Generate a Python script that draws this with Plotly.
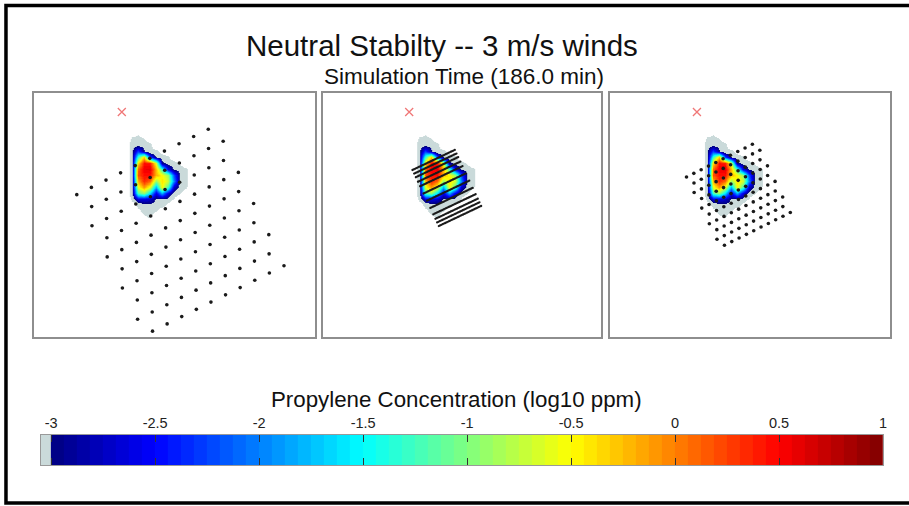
import plotly.graph_objects as go

# ---------------- data ----------------
TITLE = "Neutral Stabilty -- 3 m/s winds"
SUBTITLE = "Simulation Time (186.0 min)"
CBAR_TITLE = "Propylene Concentration (log10 ppm)"

# release point (m)
SOURCE_X = [0.0]
SOURCE_Y = [0.0]

# plume: log10 concentration (ppm) on a coarse grid, metres from release point
PLUME_X = [40, 100, 160, 220, 280, 340, 400, 460, 520, 580, 640, 700]
PLUME_Y = [-210, -270, -330, -390, -450, -510, -570, -630, -690, -750,
           -810, -870, -930, -990, -1050, -1110]
PLUME_LOG10 = [
    [-4.5, -4.2, -3.8, -4.3, -4.5, -4.5, -4.5, -4.5, -4.5, -4.5, -4.5, -4.5],
    [-4.4, -3.3, -3.2, -3.5, -4.2, -4.5, -4.5, -4.5, -4.5, -4.5, -4.5, -4.5],
    [-4.3, -3.15, -3.1, -3.15, -3.25, -4.5, -4.5, -4.5, -4.5, -4.5, -4.5, -4.5],
    [-4.3, -3.1, -2.3, -2.95, -3.4, -3.3, -4.0, -4.5, -4.5, -4.5, -4.5, -4.5],
    [-4.3, -3.1, -1.3, -0.3, -2.2, -3.0, -3.15, -3.4, -4.3, -4.5, -4.5, -4.5],
    [-4.3, -3.1, -0.4, 0.45, 0.4, -0.6, -2.9, -3.1, -3.2, -3.7, -4.5, -4.5],
    [-4.3, -3.1, 0.1, 0.55, 0.6, -0.2, -1.3, -2.6, -3.05, -3.15, -3.4, -4.4],
    [-4.3, -3.1, 0.2, 0.45, 0.45, -0.2, -0.5, -0.9, -2.2, -3.05, -3.3, -4.4],
    [-4.3, -3.1, -0.2, 0.35, 0.1, -0.9, -0.4, -0.7, -2.0, -3.05, -3.3, -4.4],
    [-4.3, -3.1, -0.6, -0.1, -0.6, -1.8, -0.5, -1.2, -2.7, -3.15, -3.45, -4.4],
    [-4.3, -3.15, -1.2, -0.9, -1.6, -2.6, -1.8, -2.6, -3.1, -3.5, -4.2, -4.5],
    [-4.4, -3.3, -2.6, -2.6, -2.7, -3.05, -3.05, -3.1, -3.7, -4.5, -4.5, -4.5],
    [-4.5, -4.2, -3.3, -3.15, -3.1, -3.1, -3.2, -3.9, -4.5, -4.5, -4.5, -4.5],
    [-4.5, -4.5, -3.9, -3.3, -3.2, -3.55, -4.3, -4.5, -4.5, -4.5, -4.5, -4.5],
    [-4.5, -4.5, -4.4, -3.8, -3.5, -4.3, -4.5, -4.5, -4.5, -4.5, -4.5, -4.5],
    [-4.5, -4.5, -4.5, -4.5, -4.5, -4.5, -4.5, -4.5, -4.5, -4.5, -4.5, -4.5],
]

# sensor layouts (metres from release point)
GRID_A_ORIGIN = [870.0, -173.0]
GRID_A_ROW_STEP = [-147.0, -72.6]
GRID_A_ROW_SPACING = [76.5, -155.7]
GRID_A_SHAPE = [10, 10]

GRID_C_ORIGIN = [557.0, -323.0]
GRID_C_ROW_STEP = [-73.5, -36.3]
GRID_C_ROW_SPACING = [38.25, -77.85]
GRID_C_SHAPE = [10, 10]

LINES_B_START = [33.0, -580.0]
LINES_B_DIRECTION = [0.904, 0.427]
LINES_B_NORMAL = [0.427, -0.904]
LINES_B_LENGTH = 470.0
LINES_B_POINTS = 34
LINES_B_OFFSETS = [0, 40, 80, 130, 180, 260, 340, 420, 490, 540, 580, 620]

CBAR_TICKS = [-3, -2.5, -2, -1.5, -1, -0.5, 0, 0.5, 1]
CBAR_TICKTEXT = ["-3", "-2.5", "-2", "-1.5", "-1", "-0.5", "0", "0.5", "1"]
CBAR_LOW, CBAR_HIGH, CBAR_NBANDS = -3.0, 1.0, 64
CBAR_UNDERFLOW_EDGE = -3.05
UNDERFLOW_VALUE = -3.3
HALO_LEVEL = -3.6

# ---------------- colours ----------------
ZMIN, ZMAX = -4.5, 1.0
GRAY = "rgb(202,218,218)"


def tnorm(z):
    return (z - ZMIN) / (ZMAX - ZMIN)


def jet(f):
    def c(v):
        return max(0.0, min(1.0, v))
    r = c(1.5 - abs(4 * f - 3))
    g = c(1.5 - abs(4 * f - 2))
    b = c(1.5 - abs(4 * f - 1))
    return "rgb(%d,%d,%d)" % (round(r * 255), round(g * 255), round(b * 255))


band = (CBAR_HIGH - CBAR_LOW) / CBAR_NBANDS
CSCALE = [[0.0, "rgba(255,255,255,0)"], [tnorm(HALO_LEVEL), "rgba(255,255,255,0)"],
          [tnorm(HALO_LEVEL), GRAY], [tnorm(CBAR_LOW), GRAY]]
for k in range(CBAR_NBANDS):
    col = jet((k + 0.5) / CBAR_NBANDS)
    CSCALE.append([tnorm(CBAR_LOW + k * band), col])
    CSCALE.append([tnorm(CBAR_LOW + (k + 1) * band), col])
CSCALE[-1][0] = 1.0


# ---------------- sensor point builders ----------------
def staggered(origin, step, spacing, shape):
    xs, ys = [], []
    for j in range(shape[0]):
        shift = 0.5 if j % 2 else 0.0
        for i in range(shape[1]):
            a = i - shift
            xs.append(origin[0] + a * step[0] + j * spacing[0])
            ys.append(origin[1] + a * step[1] + j * spacing[1])
    return xs, ys


def lines(start, direction, normal, length, npts, offsets):
    xs, ys = [], []
    for off in offsets:
        for k in range(npts):
            s = length * k / (npts - 1)
            xs.append(start[0] + s * direction[0] + off * normal[0])
            ys.append(start[1] + s * direction[1] + off * normal[1])
    return xs, ys


ga = staggered(GRID_A_ORIGIN, GRID_A_ROW_STEP, GRID_A_ROW_SPACING, GRID_A_SHAPE)
gb = lines(LINES_B_START, LINES_B_DIRECTION, LINES_B_NORMAL, LINES_B_LENGTH,
           LINES_B_POINTS, LINES_B_OFFSETS)
gc = staggered(GRID_C_ORIGIN, GRID_C_ROW_STEP, GRID_C_ROW_SPACING, GRID_C_SHAPE)

FONT = "Liberation Sans, Arial, Helvetica, sans-serif"

fig = go.Figure()
z_up = PLUME_LOG10[::-1]
y_up = PLUME_Y[::-1]
panels = [("x", "y", ga, 3.6), ("x2", "y2", gb, 2.3), ("x3", "y3", gc, 3.6)]
for xa, ya, pts, msize in panels:
    fig.add_trace(go.Heatmap(x=PLUME_X, y=y_up, z=z_up, zmin=ZMIN, zmax=ZMAX,
                             colorscale=CSCALE, zsmooth="best", showscale=False,
                             hoverinfo="skip", xaxis=xa, yaxis=ya))
    fig.add_trace(go.Scatter(x=pts[0], y=pts[1], mode="markers",
                             marker=dict(size=msize, color="#1a1a1a"),
                             hoverinfo="skip", xaxis=xa, yaxis=ya))
    fig.add_trace(go.Scatter(x=SOURCE_X, y=SOURCE_Y, mode="markers",
                             marker=dict(symbol="x-thin", size=8,
                                         line=dict(width=1.3, color="#f07878")),
                             hoverinfo="skip", xaxis=xa, yaxis=ya))

# colour bar as its own heatmap strip
cb_edges = [CBAR_UNDERFLOW_EDGE] + [CBAR_LOW + k * band for k in range(CBAR_NBANDS + 1)]
cb_z = [[UNDERFLOW_VALUE] + [CBAR_LOW + (k + 0.5) * band for k in range(CBAR_NBANDS)]]
fig.add_trace(go.Heatmap(x=cb_edges, y=[0, 1], z=cb_z, zmin=ZMIN, zmax=ZMAX,
                         colorscale=CSCALE, showscale=False, hoverinfo="skip",
                         xaxis="x4", yaxis="y4"))

W, H = 909, 506


def px(v):
    return v / W


def py(v):
    return 1 - v / H


def panel_axes(xdom, xrng):
    common = dict(showline=True, mirror=True, linecolor="#8e8e8e", linewidth=1.5,
                  showgrid=False, zeroline=False, showticklabels=False, ticks="",
                  fixedrange=True)
    xa = dict(domain=xdom, range=xrng, **common)
    ya = dict(domain=[py(337), py(93)], range=[-2250, 190], **common)
    return xa, ya


x1, y1 = panel_axes([px(34.5), px(316)], [-880, 1940])
x2, y2 = panel_axes([px(324), px(604)], [-870, 1930])
x3, y3 = panel_axes([px(613), px(894)], [-870, 1940])
x1["anchor"] = "y"; y1["anchor"] = "x"
x2["anchor"] = "y2"; y2["anchor"] = "x2"
x3["anchor"] = "y3"; y3["anchor"] = "x3"

fig.update_layout(
    width=W, height=H, margin=dict(l=0, r=0, t=0, b=0),
    paper_bgcolor="white", plot_bgcolor="white", showlegend=False,
    font=dict(family=FONT, color="#111"),
    xaxis=x1, yaxis=y1, xaxis2=x2, yaxis2=y2, xaxis3=x3, yaxis3=y3,
    xaxis4=dict(domain=[px(41), px(887)], range=[CBAR_UNDERFLOW_EDGE, CBAR_HIGH],
                anchor="y4", side="top", tickvals=CBAR_TICKS, ticktext=CBAR_TICKTEXT,
                ticks="inside", ticklen=7, tickwidth=1, tickcolor="#333",
                showline=True, linecolor="#999", linewidth=1, mirror="ticks",
                showgrid=False, zeroline=False, fixedrange=True,
                tickfont=dict(family=FONT, size=14.5, color="#222")),
    yaxis4=dict(domain=[py(465), py(435)], range=[0, 1], anchor="x4",
                showline=True, linecolor="#999", linewidth=1, mirror=True,
                showgrid=False, zeroline=False, showticklabels=False, ticks="",
                fixedrange=True),
    annotations=[
        dict(text=TITLE, x=px(444), y=py(45), xref="paper", yref="paper",
             showarrow=False, xanchor="center", yanchor="middle",
             font=dict(family=FONT, size=29.5, color="#111")),
        dict(text=SUBTITLE, x=px(466), y=py(76.5), xref="paper", yref="paper",
             showarrow=False, xanchor="center", yanchor="middle",
             font=dict(family=FONT, size=22.5, color="#111")),
        dict(text=CBAR_TITLE, x=px(459), y=py(399.5), xref="paper", yref="paper",
             showarrow=False, xanchor="center", yanchor="middle",
             font=dict(family=FONT, size=22.3, color="#111")),
    ],
    shapes=[dict(type="rect", xref="paper", yref="paper",
                 x0=px(6), x1=1.05, y0=py(503), y1=py(5.5),
                 line=dict(color="black", width=3.5), fillcolor="rgba(0,0,0,0)")],
)

fig.write_html("out.html")
